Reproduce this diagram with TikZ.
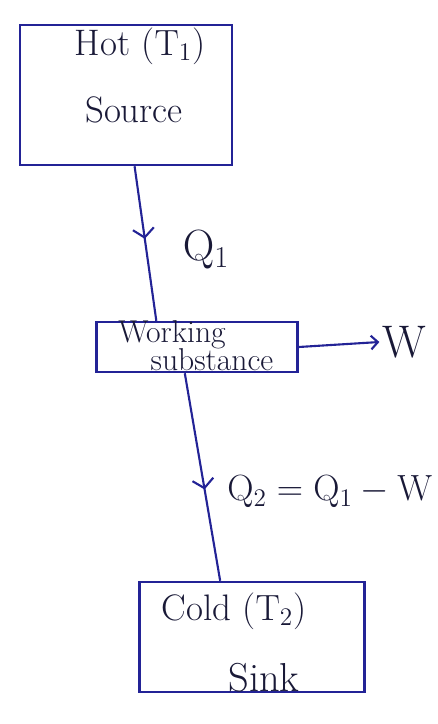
\documentclass[tikz,border=0pt]{standalone}
\usepackage{amsmath}
\usetikzlibrary{calc,arrows.meta,decorations.markings}

\definecolor{pen}{RGB}{35,35,150}
\definecolor{ink}{RGB}{25,25,55}

\begin{document}
\begin{tikzpicture}[x=0.02cm, y=-0.02cm, >=Straight Barb, line width=1.2pt,
  caja/.style={draw=pen, line width=1.4pt, rectangle, inner sep=0pt},
  texto/.style={text=ink, font=\fontsize{21}{25}\selectfont},
  flujo/.style={draw=pen, postaction={decorate},
    decoration={markings, mark=at position #1 with {\arrow[pen, line width=1.2pt]{Straight Barb[length=5pt, width=12pt]}}}}]
  % Marco
  \useasboundingbox (0,0) rectangle (438,724);

  % Fuente caliente
  \node[caja, minimum width=4.24cm, minimum height=2.8cm] (hot) at (126,95) {};
  \node[texto] (hotT) at (140,46) {Hot ($\mathrm{T}_1$)};
  \node[texto] (hotS) at (134,110) {Source};

  % Sustancia de trabajo
  \node[caja, minimum width=4.02cm, minimum height=1.0cm] (ws) at (197,347) {};
  \node[texto, font=\fontsize{18}{20}\selectfont] (wsA) at (172,335) {Working};
  \node[texto, font=\fontsize{18}{20}\selectfont] (wsB) at (212,360) {substance};

  % Sumidero frio
  \node[texto] (coldT) at (234,611) {Cold ($\mathrm{T}_2$)};
  \node[caja, minimum width=4.5cm, minimum height=2.2cm] (cold) at (252,637) {};
  \node[texto, font=\fontsize{23}{27}\selectfont] (coldS) at (264,678) {Sink};

  % Calor Q1
  \draw[flujo=0.47] ($(hot.south west)!0.54!(hot.south east)$) -- ($(ws.north west)!0.30!(ws.north east)$);
  \node[texto, font=\fontsize{24}{28}\selectfont] (q1) at (206,250) {$\mathrm{Q}_1$};

  % Calor Q2
  \draw[flujo=0.56] ($(ws.south west)!0.44!(ws.south east)$) -- ($(cold.north west)!0.36!(cold.north east)$);
  \node[texto, font=\fontsize{20}{24}\selectfont] (q2) at (330,492) {$\mathrm{Q}_2 = \mathrm{Q}_1 - \mathrm{W}$};

  % Trabajo W
  \node[texto, font=\fontsize{26}{30}\selectfont, inner sep=1pt] (w) at (404,342) {W};
  \draw[->, pen] (ws.east) -- (w.west);
\end{tikzpicture}
\end{document}
